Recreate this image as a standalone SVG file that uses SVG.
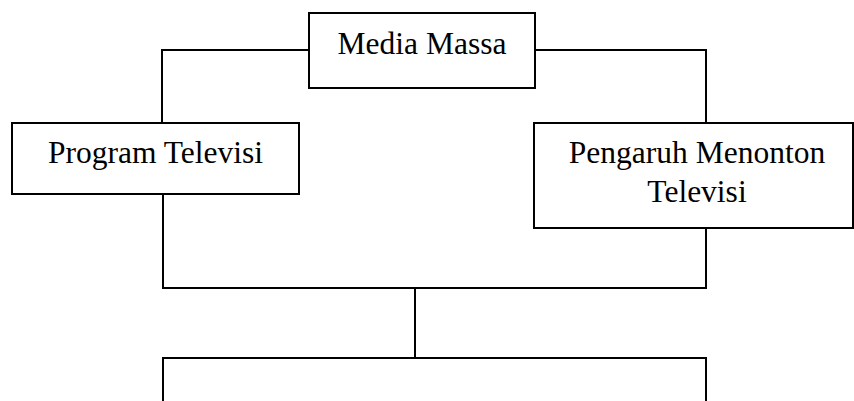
<svg xmlns="http://www.w3.org/2000/svg" width="854" height="401" viewBox="0 0 854 401">
<style>
.box{fill:#fff;stroke:#000;stroke-width:2}
.ln{fill:none;stroke:#000;stroke-width:2}
text{font-family:"Liberation Serif","Times New Roman",serif;font-size:31.5px;fill:#000;text-anchor:middle}
</style>
<rect width="854" height="401" fill="#fff"/>
<g id="connectors">
<polyline class="ln" points="309,50 162,50 162,123"/>
<polyline class="ln" points="535,50 706,50 706,123"/>
<polyline class="ln" points="163,194 163,288 706,288 706,228"/>
<line class="ln" x1="415" y1="288" x2="415" y2="358"/>
</g>
<g id="media-massa">
<rect class="box" x="309" y="13" width="226" height="75"/>
<text x="422" y="54">Media Massa</text>
</g>
<g id="program-televisi">
<rect class="box" x="12" y="123" width="287" height="71"/>
<text x="155.5" y="163">Program Televisi</text>
</g>
<g id="pengaruh">
<rect class="box" x="534" y="123" width="319" height="105"/>
<text x="697" y="163">Pengaruh Menonton</text>
<text x="697" y="202">Televisi</text>
</g>
<g id="bottom-box">
<rect class="box" x="163" y="358" width="543" height="60"/>
</g>
</svg>
